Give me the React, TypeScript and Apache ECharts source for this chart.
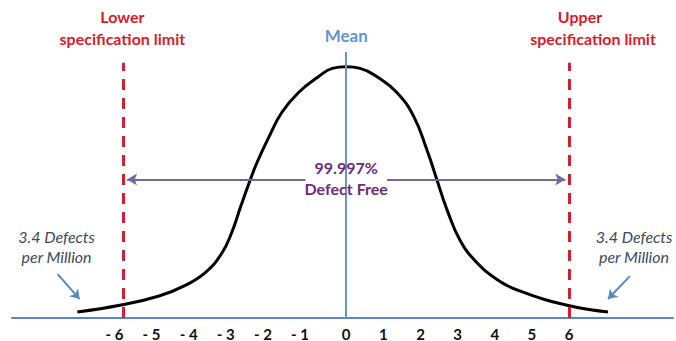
import React, { useEffect, useRef } from "react";
import * as echarts from "echarts";

// Curve (x in sigma units, y in relative density)
const CURVE_X = [-7.24, -6.06, -5.04, -4.32, -3.78, -3.35, -3.08, -2.84, -2.62, -2.39, -2.09, -1.74, -1.29, -0.75, -0.375, 0, 0.375, 0.83, 1.37, 1.82, 2.17, 2.44, 2.71, 3.08, 3.51, 4.05, 4.69, 5.92, 7.05];
const CURVE_Y = [0.01, 0.0217, 0.0367, 0.055, 0.0767, 0.1083, 0.1433, 0.1867, 0.225, 0.2617, 0.3017, 0.3433, 0.3767, 0.4033, 0.4175, 0.42, 0.4175, 0.4033, 0.3767, 0.3367, 0.2817, 0.2317, 0.1817, 0.1283, 0.0933, 0.065, 0.045, 0.0217, 0.01];

const TICK_VALUES = [-6, -5, -4, -3, -2, -1, 0, 1, 2, 3, 4, 5, 6];
const TICK_LABELS = ["- 6", "- 5", "- 4", "- 3", "- 2", "- 1", "0", "1", "2", "3", "4", "5", "6"];

const MEAN = 0;
const MEAN_LABEL = "Mean";
const SPEC_LIMITS = [-6, 6];
const LIMIT_TOP = [0.427, 0.427];
const LIMIT_TITLES = ["Lower", "Upper"];
const LIMIT_SUB = "specification limit";
const CENTER_TEXT = ["99.997%", "Defect Free"];
const TAIL_TEXT = ["3.4 Defects", "per Million"];

// annotation anchors (data coordinates)
const MEAN_TOP = 0.445;
const SPAN_Y = 0.2317;
const SPAN_ENDS = [-5.9, -1.1, 1.1, 5.9];
const CENTER_POS = [0, 0.234];
const TAIL_POS = [[-7.8, 0.12], [7.75, 0.12]];
const TAIL_ARROWS = [
  [[-7.77, 0.0733], [-7.18, 0.0317]],
  [[7.64, 0.07], [7.05, 0.0317]],
];

const FONT = "Lato, 'Open Sans', sans-serif";
const RED = "#d0222d";
const BLUE = "#6a93c6";
const PURPLE = "#7465a3";

export default function App() {
  const ref = useRef<HTMLDivElement>(null);
  useEffect(() => {
    document.body.style.margin = "0";
    const chart = echarts.init(ref.current!, null, { renderer: "svg" });
    const curve = CURVE_X.map((x, i) => [x, CURVE_Y[i]]);
    const noSym = { symbol: "none" };
    chart.setOption({
      animation: false,
      backgroundColor: "#ffffff",
      grid: { left: 12, right: 0, top: 19, bottom: 22 },
      xAxis: {
        type: "value",
        min: -9,
        max: 8.8,
        interval: 1,
        splitLine: { show: false },
        axisTick: { show: false },
        axisLine: { show: true, lineStyle: { color: "#5f86b4", width: 2 } },
        axisLabel: {
          margin: 8,
          fontFamily: FONT,
          fontWeight: "bold",
          fontSize: 15,
          color: "#111",
          showMinLabel: true,
          showMaxLabel: true,
          formatter: (v: number) => {
            const i = TICK_VALUES.indexOf(Math.round(v));
            if (i < 0) return "";
            return v < 0 ? `{n|${TICK_LABELS[i]}}` : TICK_LABELS[i];
          },
          rich: {
            n: { fontFamily: FONT, fontWeight: "bold", fontSize: 15, color: "#111", padding: [0, 18, 0, 0] },
          },
        },
      },
      yAxis: { type: "value", min: 0, max: 0.5, show: false, splitLine: { show: false } },
      series: [
        {
          type: "line",
          data: curve,
          smooth: 0.45,
          symbol: "none",
          lineStyle: { color: "#000", width: 3 },
          z: 3,
          markLine: {
            silent: true,
            symbol: ["none", "none"],
            data: [
              [
                { coord: [MEAN, 0], ...noSym },
                {
                  coord: [MEAN, MEAN_TOP],
                  ...noSym,
                  lineStyle: { color: BLUE, width: 2, type: "solid" },
                  label: {
                    show: true,
                    position: "end",
                    distance: 8,
                    formatter: MEAN_LABEL,
                    fontFamily: FONT,
                    fontWeight: "bold",
                    fontSize: 17,
                    color: BLUE,
                  },
                },
              ],
              ...SPEC_LIMITS.map((x, k) => [
                { coord: [x, 0], ...noSym },
                {
                  coord: [x, LIMIT_TOP[k]],
                  ...noSym,
                  lineStyle: { color: RED, width: 3, type: [11, 8] },
                  label: {
                    show: true,
                    position: "end",
                    distance: 13,
                    offset: k === 0 ? [-1, 0] : [24, 0],
                    formatter: `{t|${LIMIT_TITLES[k]}}\n{s|${LIMIT_SUB}}`,
                    color: RED,
                    rich: {
                      t: {
                        fontFamily: FONT,
                        fontWeight: "bold",
                        fontSize: 16,
                        color: RED,
                        lineHeight: 22,
                        padding: k === 0 ? [0, 0, 0, 0] : [0, 26, 0, 0],
                      },
                      s: { fontFamily: FONT, fontWeight: "bold", fontSize: 16, color: RED, lineHeight: 22 },
                    },
                  },
                },
              ]),
              [
                { coord: [SPAN_ENDS[1], SPAN_Y], symbol: "none" },
                { coord: [SPAN_ENDS[0], SPAN_Y], symbol: "arrow", symbolSize: [9, 10], lineStyle: { color: PURPLE, width: 2, type: "solid" }, label: { show: false } },
              ],
              [
                { coord: [SPAN_ENDS[2], SPAN_Y], symbol: "none" },
                { coord: [SPAN_ENDS[3], SPAN_Y], symbol: "arrow", symbolSize: [9, 10], lineStyle: { color: PURPLE, width: 2, type: "solid" }, label: { show: false } },
              ],
              ...TAIL_ARROWS.map((a) => [
                { coord: a[0], symbol: "none" },
                { coord: a[1], symbol: "arrow", symbolSize: [9, 9], lineStyle: { color: "#5b87bd", width: 2, type: "solid" }, label: { show: false } },
              ]),
            ],
          },
          markPoint: {
            silent: true,
            symbol: "circle",
            symbolSize: 1,
            itemStyle: { color: "rgba(0,0,0,0)" },
            data: [
              {
                coord: CENTER_POS,
                label: {
                  show: true,
                  position: "inside",
                  formatter: CENTER_TEXT.join("\n"),
                  fontFamily: FONT,
                  fontWeight: "bold",
                  fontSize: 16,
                  lineHeight: 21,
                  color: "#6a2c7c",
                },
              },
              ...TAIL_POS.map((p) => ({
                coord: p,
                label: {
                  show: true,
                  position: "inside",
                  formatter: TAIL_TEXT.join("\n"),
                  fontFamily: FONT,
                  fontStyle: "italic",
                  fontSize: 16,
                  lineHeight: 20,
                  color: "#3d4a5c",
                },
              })),
            ],
          },
        },
      ],
    });
    return () => chart.dispose();
  }, []);
  return <div ref={ref} style={{ width: 676, height: 341 }} />;
}
